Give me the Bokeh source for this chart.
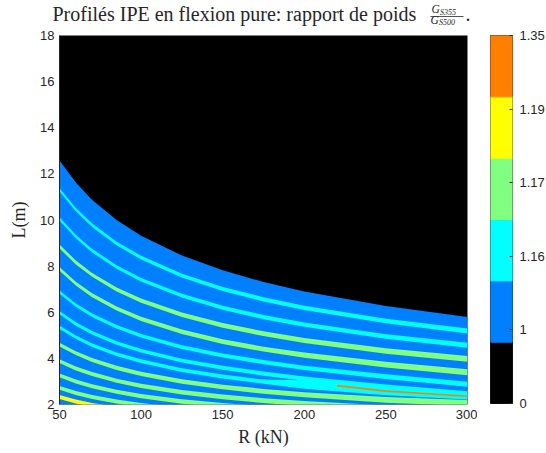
from bokeh.plotting import figure
from bokeh.layouts import column, row
from bokeh.models import FixedTicker, Range1d
from bokeh.core.properties import value
from bokeh.embed import file_html
from bokeh.resources import INLINE

# ---------------- data ----------------
R = [50, 60, 70, 85, 100, 125, 150, 175, 200, 250, 300]          # kN
# upper limit of the admissible domain (black above)
L_limit = [12.58, 11.63, 10.87, 10.00, 9.32, 8.46, 7.82, 7.31, 6.90, 6.27, 5.79]
# contour stripes (centre line L in m at each R)
cyan1 = [11.31, 10.45, 9.77, 8.98, 8.37, 7.59, 7.01, 6.56, 6.19, 5.62, 5.19]
cyan2 = [10.05, 9.28, 8.67, 7.96, 7.41, 6.72, 6.20, 5.79, 5.46, 4.95, 4.57]
green1 = [8.85, 8.16, 7.62, 6.99, 6.50, 5.89, 5.43, 5.07, 4.78, 4.32, 3.98]
green2 = [7.88, 7.24, 6.74, 6.16, 5.71, 5.15, 4.73, 4.40, 4.14, 3.73, 3.40]
cyan3 = [6.87, 6.31, 5.87, 5.37, 4.98, 4.49, 4.12, 3.84, 3.59, 3.21, 2.88]
cyan4 = [5.98, 5.49, 5.11, 4.67, 4.33, 3.90, 3.59, 3.34, 3.12, 2.77, 2.47]
cyan5 = [5.35, 4.92, 4.57, 4.18, 3.88, 3.49, 3.21, 2.99, 2.78, 2.50, 2.32]
green3 = [4.60, 4.23, 3.93, 3.59, 3.33, 3.00, 2.76, 2.57, 2.42, 2.20, 2.07]
green4 = [3.88, 3.56, 3.32, 3.03, 2.81, 2.53, 2.33, 2.17, 2.04, 1.84, 1.69]
green5 = [3.26, 3.00, 2.79, 2.55, 2.36, 2.13, 1.96, 1.82, 1.71, 1.54, 1.42]
green6 = [2.72, 2.50, 2.33, 2.13, 1.97, 1.78, 1.63, 1.52, 1.43, 1.29, 1.18]
yellow1 = [2.32, 2.13, 1.98, 1.81, 1.68, 1.51, 1.39, 1.30, 1.22, 1.10, 1.01]
# cyan zone where stripes 4 and 5 merge (bottom right)
merge_R = [175, 200, 250, 300]
merge_lo = [3.05, 2.82, 2.50, 2.30]
merge_hi = [3.08, 3.05, 2.74, 2.48]
# thin orange contour at bottom right
orange_R = [220, 250, 300]
orange_L = [2.82, 2.58, 2.36]

x_ticks = [50, 100, 150, 200, 250, 300]
y_ticks = [2, 4, 6, 8, 10, 12, 14, 16, 18]

band_colors = ["#000000", "#0080FF", "#00FFFF", "#80FF80", "#FFFF00", "#FF8000"]
cbar_labels = ["0", "1", "1.16", "1.17", "1.19", "1.35"]

title_text = "Profilés IPE en flexion pure: rapport de poids"
x_label = "R (kN)"
y_label = "L(m)"

# ---------------- styling ----------------
SERIF = "Liberation Serif"
SANS = "Liberation Sans"
INK = "#262626"
FW, FH = 408, 369
ppu = FH / (y_ticks[-1] - y_ticks[0])

stripes = [
    (cyan1, band_colors[2], 3.3, 5.0),
    (cyan2, band_colors[2], 3.3, 5.0),
    (green1, band_colors[3], 3.8, 5.8),
    (green2, band_colors[3], 3.8, 6.0),
    (cyan3, band_colors[2], 3.3, 5.0),
    (cyan4, band_colors[2], 3.3, 5.0),
    (cyan5, band_colors[2], 3.3, 5.0),
    (green3, band_colors[3], 3.8, 6.0),
    (green4, band_colors[3], 3.8, 6.0),
    (green5, band_colors[3], 3.8, 6.0),
    (green6, band_colors[3], 3.8, 6.0),
    (yellow1, band_colors[4], 4.0, 6.0),
]


def band(Lvals, w0, w1):
    half = [(w0 + (w1 - w0) * (r - R[0]) / (R[-1] - R[0])) / 2 / ppu for r in R]
    return [l - h for l, h in zip(Lvals, half)], [l + h for l, h in zip(Lvals, half)]


# ---------------- title strip (coordinates = page pixels, y downward) ----------------
TW, TH = 546, 27
t = figure(width=TW, height=TH, x_range=Range1d(0, TW), y_range=Range1d(0, TH),
           output_backend="svg", toolbar_location=None,
           x_axis_location=None, y_axis_location=None,
           min_border_left=0, min_border_right=0, min_border_top=0, min_border_bottom=0,
           outline_line_color=None)
t.grid.visible = False


def ty(page_y):
    return TH - page_y


def ttext(x, y, s, size_px, style="normal"):
    # the svg text is drawn about 0.35 em below the requested baseline: compensate
    t.text(x=[x], y=[ty(y - 0.35 * size_px)], text=[s], text_font=value(SERIF),
           text_font_style=style, text_font_size=f"{size_px}px", text_color=INK,
           text_baseline="alphabetic", text_align="left")


ttext(52, 20.5, title_text, 20)
ttext(431, 13, "G", 11.5, "italic")
ttext(439.5, 14.5, "S355", 8, "italic")
t.segment(x0=[430], y0=[ty(16)], x1=[463], y1=[ty(16)], line_color=INK, line_width=0.8)
ttext(430, 23.8, "G", 11.5, "italic")
ttext(438.5, 25, "S500", 8, "italic")
ttext(465, 20.5, ".", 20)

# ---------------- main plot ----------------
p = figure(frame_width=FW, frame_height=FH,
           x_range=Range1d(x_ticks[0], x_ticks[-1]), y_range=Range1d(y_ticks[0], y_ticks[-1]),
           output_backend="svg", toolbar_location=None,
           min_border_left=59, min_border_right=10, min_border_top=8, min_border_bottom=49,
           background_fill_color=band_colors[0], border_fill_color="white",
           outline_line_color=None)
p.grid.visible = False

p.varea(x=R, y1=[y_ticks[0]] * len(R), y2=L_limit, color=band_colors[1])
for Lv, col, w0, w1 in stripes:
    lo, hi = band(Lv, w0, w1)
    p.varea(x=R, y1=lo, y2=hi, color=col)
p.varea(x=merge_R, y1=merge_lo, y2=merge_hi, color=band_colors[2])
p.line(x=orange_R, y=orange_L, line_color=band_colors[5], line_width=1.6)

p.xaxis.ticker = FixedTicker(ticks=x_ticks)
p.yaxis.ticker = FixedTicker(ticks=y_ticks)
for ax in (p.xaxis[0], p.yaxis[0]):
    ax.major_tick_in = 0
    ax.major_tick_out = 0
    ax.minor_tick_in = 0
    ax.minor_tick_out = 0
    ax.major_label_text_font = SANS
    ax.major_label_text_font_size = "13px"
    ax.major_label_text_color = INK
    ax.major_label_standoff = 5
    ax.axis_label_text_font = SERIF
    ax.axis_label_text_font_style = "normal"
    ax.axis_label_text_font_size = "18px"
    ax.axis_label_text_color = INK
p.xaxis.axis_line_color = None
p.yaxis.axis_line_color = INK
p.xaxis.axis_label = x_label
p.yaxis.axis_label = y_label
p.xaxis.axis_label_standoff = 5
p.yaxis.axis_label_standoff = 8

# ---------------- colour bar ----------------
n = len(band_colors)
step = 5
c = figure(frame_width=22, frame_height=368,
           x_range=Range1d(0, 1), y_range=Range1d(0, n * step),
           output_backend="svg", toolbar_location=None, y_axis_location="right",
           min_border_left=13, min_border_right=34, min_border_top=8, min_border_bottom=50,
           outline_line_color=INK, outline_line_width=1)
c.grid.visible = False
c.xaxis.visible = False
c.quad(left=[0] * n, right=[1] * n, bottom=[i * step for i in range(n)],
       top=[(i + 1) * step for i in range(n)], color=band_colors)
tick_pos = [i * n * step // (len(cbar_labels) - 1) for i in range(len(cbar_labels))]
c.yaxis.ticker = FixedTicker(ticks=tick_pos)
c.yaxis.major_label_overrides = {tp: lab for tp, lab in zip(tick_pos, cbar_labels)}
c.yaxis.axis_line_color = None
c.yaxis.major_tick_in = 3
c.yaxis.major_tick_out = 0
c.yaxis.minor_tick_in = 0
c.yaxis.minor_tick_out = 0
c.yaxis.major_tick_line_color = INK
c.yaxis.major_label_text_font = SANS
c.yaxis.major_label_text_font_size = "13px"
c.yaxis.major_label_text_color = INK
c.yaxis.major_label_standoff = 7

layout = column(t, row(p, c, spacing=0), spacing=0)
open("out.html", "w").write(file_html(layout, INLINE))
